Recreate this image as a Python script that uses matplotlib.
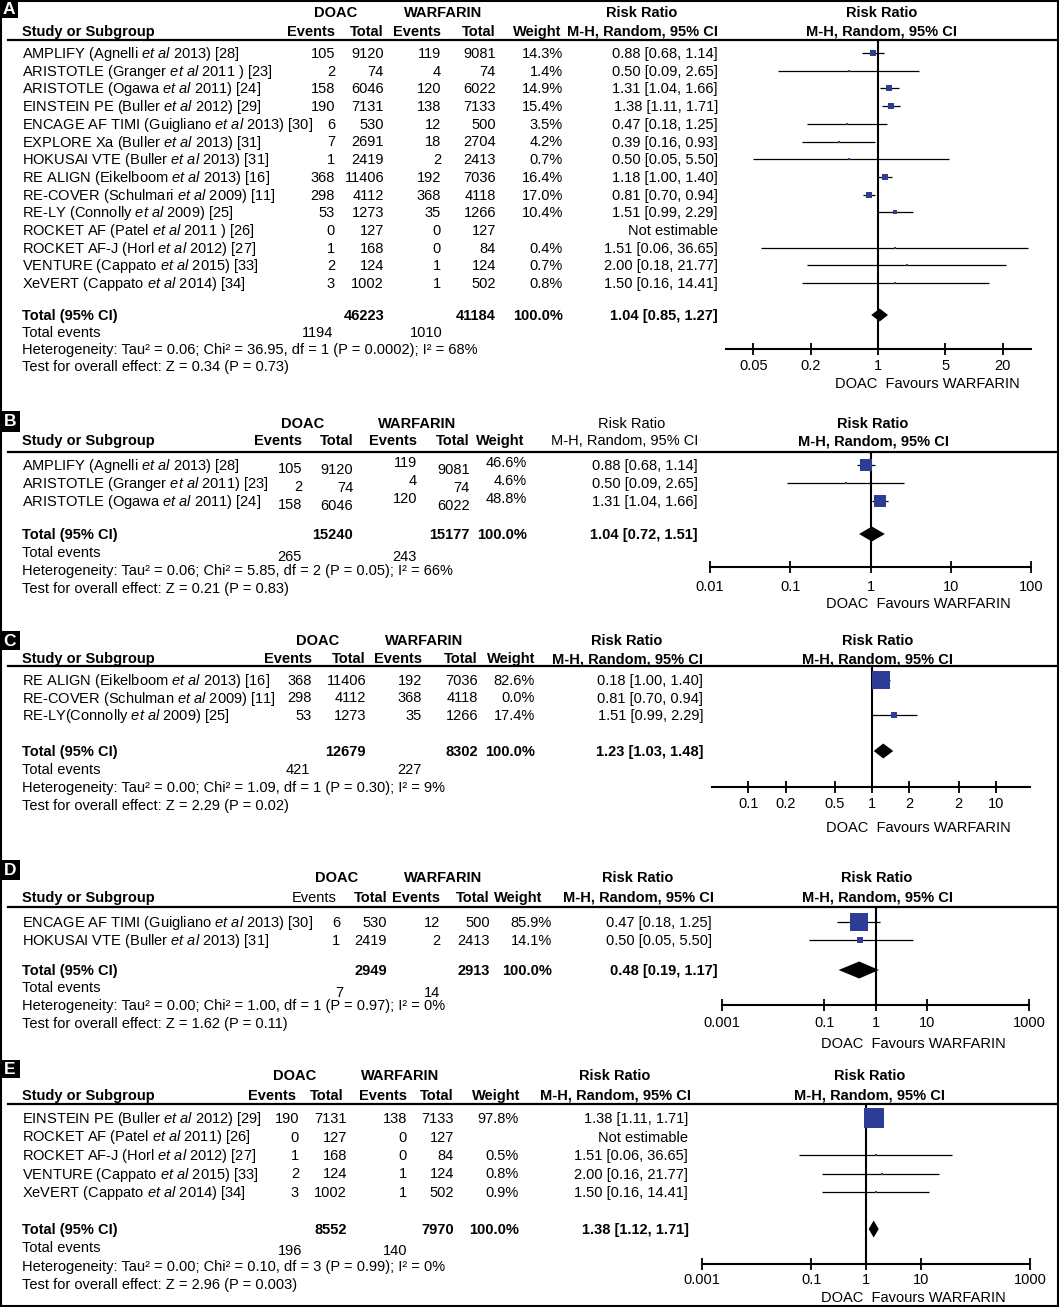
import matplotlib
matplotlib.use('Agg')
import matplotlib.pyplot as plt
from matplotlib.lines import Line2D
from matplotlib.patches import Rectangle
from matplotlib.ticker import NullLocator

plt.rcParams['font.family'] = ['Liberation Sans', 'DejaVu Sans']
plt.rcParams['mathtext.fontset'] = 'custom'
plt.rcParams['mathtext.rm'] = 'Liberation Sans'
plt.rcParams['mathtext.it'] = 'Liberation Sans:italic'
plt.rcParams['mathtext.bf'] = 'Liberation Sans:bold'

W, H = 1059, 1307
FS = 10.5
BLUE = '#2d3d96'

# ---- panel A: all studies ----
A_STUDY = ["AMPLIFY (Agnelli et al 2013) [28]", "ARISTOTLE (Granger et al 2011 ) [23]",
           "ARISTOTLE (Ogawa et al 2011) [24]", "EINSTEIN PE (Buller et al 2012) [29]",
           "ENCAGE AF TIMI (Guigliano et al 2013) [30]", "EXPLORE Xa (Buller et al 2013) [31]",
           "HOKUSAI VTE (Buller et al 2013) [31]", "RE ALIGN (Eikelboom et al 2013) [16]",
           "RE-COVER (Schulmari et al 2009) [11]", "RE-LY (Connolly et al 2009) [25]",
           "ROCKET AF (Patel et al 2011 ) [26]", "ROCKET AF-J (Horl et al 2012) [27]",
           "VENTURE (Cappato et al 2015) [33]", "XeVERT (Cappato et al 2014) [34]"]
A_DOAC_EV = [105, 2, 158, 190, 6, 7, 1, 368, 298, 53, 0, 1, 2, 3]
A_DOAC_TOT = [9120, 74, 6046, 7131, 530, 2691, 2419, 11406, 4112, 1273, 127, 168, 124, 1002]
A_WARF_EV = [119, 4, 120, 138, 12, 18, 2, 192, 368, 35, 0, 0, 1, 1]
A_WARF_TOT = [9081, 74, 6022, 7133, 500, 2704, 2413, 7036, 4118, 1266, 127, 84, 124, 502]
A_WEIGHT = [14.3, 1.4, 14.9, 15.4, 3.5, 4.2, 0.7, 16.4, 17.0, 10.4, None, 0.4, 0.7, 0.8]
A_RR = [0.88, 0.50, 1.31, 1.38, 0.47, 0.39, 0.50, 1.18, 0.81, 1.51, None, 1.51, 2.00, 1.50]
A_LO = [0.68, 0.09, 1.04, 1.11, 0.18, 0.16, 0.05, 1.00, 0.70, 0.99, None, 0.06, 0.18, 0.16]
A_HI = [1.14, 2.65, 1.66, 1.71, 1.25, 0.93, 5.50, 1.40, 0.94, 2.29, None, 36.65, 21.77, 14.41]
A_TOTALS = [46223, 41184]
A_EVENTS = [1194, 1010]
A_POOLED = [1.04, 0.85, 1.27]
A_HET = "Heterogeneity: Tau² = 0.06; Chi² = 36.95, df = 1 (P = 0.0002); I² = 68%"
A_TEST = "Test for overall effect: Z = 0.34 (P = 0.73)"
A_TICKS = [0.05, 0.2, 1, 5, 20]
A_TICKLABELS = ['0.05', '0.2', '1', '5', '20']

# ---- panel B ----
B_STUDY = ["AMPLIFY (Agnelli et al 2013) [28]", "ARISTOTLE (Granger et al 2011) [23]",
           "ARISTOTLE (Ogawa et al 2011) [24]"]
B_DOAC_EV = [105, 2, 158]
B_DOAC_TOT = [9120, 74, 6046]
B_WARF_EV = [119, 4, 120]
B_WARF_TOT = [9081, 74, 6022]
B_WEIGHT = [46.6, 4.6, 48.8]
B_RR = [0.88, 0.50, 1.31]
B_LO = [0.68, 0.09, 1.04]
B_HI = [1.14, 2.65, 1.66]
B_TOTALS = [15240, 15177]
B_EVENTS = [265, 243]
B_POOLED = [1.04, 0.72, 1.51]
B_HET = "Heterogeneity: Tau² = 0.06; Chi² = 5.85, df = 2 (P = 0.05); I² = 66%"
B_TEST = "Test for overall effect: Z = 0.21 (P = 0.83)"
B_TICKS = [0.01, 0.1, 1, 10, 100]
B_TICKLABELS = ['0.01', '0.1', '1', '10', '100']

# ---- panel C ----
C_STUDY = ["RE ALIGN (Eikelboom et al 2013) [16]", "RE-COVER (Schulman et al 2009) [11]",
           "RE-LY(Connolly et al 2009) [25]"]
C_DOAC_EV = [368, 298, 53]
C_DOAC_TOT = [11406, 4112, 1273]
C_WARF_EV = [192, 368, 35]
C_WARF_TOT = [7036, 4118, 1266]
C_WEIGHT = [82.6, 0.0, 17.4]
C_RR = [1.18, 0.81, 1.51]
C_LO = [1.00, 0.70, 0.99]
C_HI = [1.40, 0.94, 2.29]
C_CI_TEXT = ["0.18 [1.00, 1.40]", "0.81 [0.70, 0.94]", "1.51 [0.99, 2.29]"]
C_TOTALS = [12679, 8302]
C_EVENTS = [421, 227]
C_POOLED = [1.23, 1.03, 1.48]
C_HET = "Heterogeneity: Tau² = 0.00; Chi² = 1.09, df = 1 (P = 0.30); I² = 9%"
C_TEST = "Test for overall effect: Z = 2.29 (P = 0.02)"
C_TICKS = [0.1, 0.2, 0.5, 1, 2, 5, 10]
C_TICKLABELS = ['0.1', '0.2', '0.5', '1', '2', '2', '10']

# ---- panel D ----
D_STUDY = ["ENCAGE AF TIMI (Guigliano et al 2013) [30]", "HOKUSAI VTE (Buller et al 2013) [31]"]
D_DOAC_EV = [6, 1]
D_DOAC_TOT = [530, 2419]
D_WARF_EV = [12, 2]
D_WARF_TOT = [500, 2413]
D_WEIGHT = [85.9, 14.1]
D_RR = [0.47, 0.50]
D_LO = [0.18, 0.05]
D_HI = [1.25, 5.50]
D_TOTALS = [2949, 2913]
D_EVENTS = [7, 14]
D_POOLED = [0.48, 0.19, 1.17]
D_HET = "Heterogeneity: Tau² = 0.00; Chi² = 1.00, df = 1 (P = 0.97); I² = 0%"
D_TEST = "Test for overall effect: Z = 1.62 (P = 0.11)"
D_TICKS = [0.001, 0.1, 1, 10, 1000]
D_TICKLABELS = ['0.001', '0.1', '1', '10', '1000']

# ---- panel E ----
E_STUDY = ["EINSTEIN PE (Buller et al 2012) [29]", "ROCKET AF (Patel et al 2011) [26]",
           "ROCKET AF-J (Horl et al 2012) [27]", "VENTURE (Cappato et al 2015) [33]",
           "XeVERT (Cappato et al 2014) [34]"]
E_DOAC_EV = [190, 0, 1, 2, 3]
E_DOAC_TOT = [7131, 127, 168, 124, 1002]
E_WARF_EV = [138, 0, 0, 1, 1]
E_WARF_TOT = [7133, 127, 84, 124, 502]
E_WEIGHT = [97.8, None, 0.5, 0.8, 0.9]
E_RR = [1.38, None, 1.51, 2.00, 1.50]
E_LO = [1.11, None, 0.06, 0.16, 0.16]
E_HI = [1.71, None, 36.65, 21.77, 14.41]
E_TOTALS = [8552, 7970]
E_EVENTS = [196, 140]
E_POOLED = [1.38, 1.12, 1.71]
E_HET = "Heterogeneity: Tau² = 0.00; Chi² = 0.10, df = 3 (P = 0.99); I² = 0%"
E_TEST = "Test for overall effect: Z = 2.96 (P = 0.003)"
E_TICKS = [0.001, 0.1, 1, 10, 1000]
E_TICKLABELS = ['0.001', '0.1', '1', '10', '1000']

# pixel layout of each panel (x from left, y from top)
LAYOUT = {
    'A': dict(label=(0, 0, 18, 18), grp_y=12, hdr_y=31, line_y=40, row0=53, row_dy=17.7,
              tot_y=315, ev_y=332, ev_dy=0, het_y=349, test_y=366,
              doac_c=336, warf_c=443, rrcol_c=642, rrcol_bold=True, plot_c=882,
              hdr_cols=[335, 384, 441, 496, 561], cols=[335, 384, 441, 496, 563],
              num_dy=[0, 0, 0, 0, 0], ci_r=718, ci_hdr_r=718, ci_tot_r=718, ev_cols=[333, 443],
              ax_x=(726, 1031), ax_y=349, xlim=(0.026, 39.3), tick_y=365,
              xlabel=(927, 383), diamond_h=13),
    'B': dict(label=(0, 411, 20, 432), grp_y=423, hdr_y=440, line_y=452, row0=465, row_dy=18,
              tot_y=534, ev_y=552, ev_dy=4, het_y=570, test_y=588,
              doac_c=303, warf_c=417, rrcol_c=632, rrcol_bold=False, plot_c=873,
              hdr_cols=[302, 353, 417, 470, 524], cols=[302, 353, 417, 470, 527],
              num_dy=[3, 4, -3, 4, -3], ci_r=698, ci_hdr_r=698, ci_tot_r=698, ev_cols=[302, 417],
              ax_x=(710, 1031), ax_y=567, xlim=(0.01, 100), tick_y=586,
              xlabel=(918, 603), diamond_h=15),
    'C': dict(label=(0, 631, 20, 650), grp_y=640, hdr_y=658, line_y=666, row0=680, row_dy=17.5,
              tot_y=751, ev_y=769, ev_dy=0, het_y=787, test_y=805,
              doac_c=318, warf_c=424, rrcol_c=627, rrcol_bold=True, plot_c=878,
              hdr_cols=[312, 366, 422, 478, 535], cols=[312, 366, 422, 478, 535],
              num_dy=[0, 0, 0, 0, 0], ci_r=703, ci_hdr_r=703, ci_tot_r=703, ev_cols=[310, 422],
              ax_x=(712, 1030), ax_y=787, xlim=(0.051, 18.8), tick_y=803,
              xlabel=(918, 827), diamond_h=15),
    'D': dict(label=(0, 860, 20, 880), grp_y=877, hdr_y=897, line_y=907, row0=922, row_dy=18,
              tot_y=970, ev_y=987, ev_dy=5, het_y=1005, test_y=1023,
              doac_c=337, warf_c=443, rrcol_c=638, rrcol_bold=True, plot_c=877,
              hdr_cols=[337, 387, 440, 489, 542], cols=[340, 387, 440, 490, 552],
              events_plain=True,
              num_dy=[0, 0, 0, 0, 0], ci_r=712, ci_hdr_r=714, ci_tot_r=718, ev_cols=[343, 440],
              ax_x=(722, 1029), ax_y=1005, xlim=(0.001, 1000), tick_y=1022,
              xlabel=(913, 1043), diamond_h=17),
    'E': dict(label=(0, 1060, 20, 1078), grp_y=1075, hdr_y=1095, line_y=1104, row0=1118,
              row_dy=18.5, tot_y=1229, ev_y=1247, ev_dy=3, het_y=1266, test_y=1284,
              doac_c=295, warf_c=400, rrcol_c=615, rrcol_bold=True, plot_c=870,
              hdr_cols=[296, 343, 407, 454, 520], cols=[299, 347, 407, 454, 519],
              num_dy=[0, 0, 0, 0, 0], ci_r=688, ci_hdr_r=691, ci_tot_r=689, ev_cols=[302, 407],
              ax_x=(702, 1030), ax_y=1264, xlim=(0.001, 1000), tick_y=1279,
              xlabel=(913, 1297), diamond_h=17),
}


def put(fig, x, y, s, ha='left', bold=False, size=FS, color='black'):
    """text centred (cap height) on pixel row y"""
    fig.text(x / W, 1 - (y + 5) / H, s, ha=ha, va='baseline', fontsize=size,
             fontweight='bold' if bold else 'normal', color=color)


def et_al(s):
    return s.replace('et al', r'$\mathit{et\ al}$')


def ci_str(r, l, h):
    if r is None:
        return 'Not estimable'
    return f'{r:.2f} [{l:.2f}, {h:.2f}]'


def draw_panel(fig, letter, lay, study, dev, dtot, wev, wtot, weight, rr, lo, hi,
               totals, events, pooled, het, test, ticks, ticklabels, ci_text=None):
    # panel letter
    x0, y0, x1, y1 = lay['label']
    fig.add_artist(Rectangle((x0 / W, 1 - y1 / H), (x1 - x0) / W, (y1 - y0) / H,
                             transform=fig.transFigure, color='black', lw=0))
    put(fig, (x0 + x1) / 2, (y0 + y1) / 2, letter, ha='center', bold=True, size=12.5,
        color='white')

    # headers
    put(fig, lay['doac_c'], lay['grp_y'], 'DOAC', ha='center', bold=True)
    put(fig, lay['warf_c'], lay['grp_y'], 'WARFARIN', ha='center', bold=True)
    put(fig, lay['rrcol_c'], lay['grp_y'], 'Risk Ratio', ha='center', bold=lay['rrcol_bold'])
    put(fig, lay['plot_c'], lay['grp_y'], 'Risk Ratio', ha='center', bold=True)
    put(fig, 22, lay['hdr_y'], 'Study or Subgroup', bold=True)
    for j, (s, xr) in enumerate(zip(['Events', 'Total', 'Events', 'Total', 'Weight'],
                                    lay['hdr_cols'])):
        put(fig, xr, lay['hdr_y'], s, ha='right',
            bold=not (j == 0 and lay.get('events_plain', False)))
    put(fig, lay['ci_hdr_r'], lay['hdr_y'], 'M-H, Random, 95% CI', ha='right',
        bold=lay['rrcol_bold'])
    put(fig, lay['plot_c'], lay['hdr_y'], 'M-H, Random, 95% CI', ha='center', bold=True)
    ly = 1 - lay['line_y'] / H
    fig.add_artist(Line2D([8 / W, 1.0], [ly, ly], color='black', lw=1.6))

    # forest axes
    ax0, ax1 = lay['ax_x']
    ax = fig.add_axes([ax0 / W, 1 - lay['ax_y'] / H, (ax1 - ax0) / W,
                       (lay['ax_y'] - lay['line_y']) / H])
    ax.set_xscale('log')
    ax.set_xlim(*lay['xlim'])
    ax.set_ylim(lay['ax_y'], lay['line_y'])
    ax.patch.set_visible(False)
    for sp in ['top', 'left', 'right']:
        ax.spines[sp].set_visible(False)
    ax.spines['bottom'].set_linewidth(1.5)
    ax.set_yticks([])
    ax.set_xticks(ticks)
    ax.xaxis.set_minor_locator(NullLocator())
    ax.tick_params(axis='x', direction='inout', length=8, width=1.3, labelbottom=False)
    for t, tl in zip(ticks, ticklabels):
        ax.text(t, lay['tick_y'] + 5, tl, ha='center', va='baseline', fontsize=FS,
                clip_on=False)
    ax.axvline(1, color='black', lw=1.5, zorder=1)

    if ci_text is None:
        ci_text = [ci_str(r, l, h) for r, l, h in zip(rr, lo, hi)]

    for i, name in enumerate(study):
        y = lay['row0'] + i * lay['row_dy']
        put(fig, 22, y, et_al(name))
        for v, xr, dy in zip([dev[i], dtot[i], wev[i], wtot[i]], lay['cols'][:4],
                             lay['num_dy'][:4]):
            put(fig, xr, y + dy, str(v), ha='right')
        if weight[i] is not None:
            put(fig, lay['cols'][4], y + lay['num_dy'][4], f'{weight[i]:.1f}%', ha='right')
        put(fig, lay['ci_r'], y, ci_text[i], ha='right')
        if rr[i] is not None and weight[i]:
            ax.hlines(y, lo[i], hi[i], color='black', lw=0.9, zorder=2)
            side = max(2.5, 0.82 * weight[i] ** 0.7) * 0.72
            ax.scatter([rr[i]], [y], s=side ** 2, marker='s', color=BLUE, linewidths=0,
                       zorder=3)

    # totals
    ty = lay['tot_y']
    put(fig, 22, ty, 'Total (95% CI)', bold=True)
    put(fig, lay['cols'][1], ty, str(totals[0]), ha='right', bold=True)
    put(fig, lay['cols'][3], ty, str(totals[1]), ha='right', bold=True)
    put(fig, lay['cols'][4], ty, '100.0%', ha='right', bold=True)
    put(fig, lay['ci_tot_r'], ty, ci_str(*pooled), ha='right', bold=True)
    prr, plo, phi = pooled
    hh = lay['diamond_h'] / 2
    ax.fill([plo, prr, phi, prr], [ty, ty - hh, ty, ty + hh], color='black', lw=0, zorder=3)

    put(fig, 22, lay['ev_y'], 'Total events')
    put(fig, lay['ev_cols'][0], lay['ev_y'] + lay['ev_dy'], str(events[0]), ha='right')
    put(fig, lay['ev_cols'][1], lay['ev_y'] + lay['ev_dy'], str(events[1]), ha='right')
    put(fig, 22, lay['het_y'], het)
    put(fig, 22, lay['test_y'], test)
    put(fig, lay['xlabel'][0], lay['xlabel'][1], 'DOAC  Favours WARFARIN', ha='center')


fig = plt.figure(figsize=(W / 100, H / 100), dpi=100)
fig.patch.set_facecolor('white')

draw_panel(fig, 'A', LAYOUT['A'], A_STUDY, A_DOAC_EV, A_DOAC_TOT, A_WARF_EV, A_WARF_TOT,
           A_WEIGHT, A_RR, A_LO, A_HI, A_TOTALS, A_EVENTS, A_POOLED, A_HET, A_TEST,
           A_TICKS, A_TICKLABELS)
draw_panel(fig, 'B', LAYOUT['B'], B_STUDY, B_DOAC_EV, B_DOAC_TOT, B_WARF_EV, B_WARF_TOT,
           B_WEIGHT, B_RR, B_LO, B_HI, B_TOTALS, B_EVENTS, B_POOLED, B_HET, B_TEST,
           B_TICKS, B_TICKLABELS)
draw_panel(fig, 'C', LAYOUT['C'], C_STUDY, C_DOAC_EV, C_DOAC_TOT, C_WARF_EV, C_WARF_TOT,
           C_WEIGHT, C_RR, C_LO, C_HI, C_TOTALS, C_EVENTS, C_POOLED, C_HET, C_TEST,
           C_TICKS, C_TICKLABELS, ci_text=C_CI_TEXT)
draw_panel(fig, 'D', LAYOUT['D'], D_STUDY, D_DOAC_EV, D_DOAC_TOT, D_WARF_EV, D_WARF_TOT,
           D_WEIGHT, D_RR, D_LO, D_HI, D_TOTALS, D_EVENTS, D_POOLED, D_HET, D_TEST,
           D_TICKS, D_TICKLABELS)
draw_panel(fig, 'E', LAYOUT['E'], E_STUDY, E_DOAC_EV, E_DOAC_TOT, E_WARF_EV, E_WARF_TOT,
           E_WEIGHT, E_RR, E_LO, E_HI, E_TOTALS, E_EVENTS, E_POOLED, E_HET, E_TEST,
           E_TICKS, E_TICKLABELS)

# outer frame
fig.add_artist(Rectangle((1 / W, 1 / H), (W - 2) / W, (H - 2) / H, transform=fig.transFigure,
                         fill=False, edgecolor='black', lw=1.5))

fig.savefig('out.png', dpi=100)
